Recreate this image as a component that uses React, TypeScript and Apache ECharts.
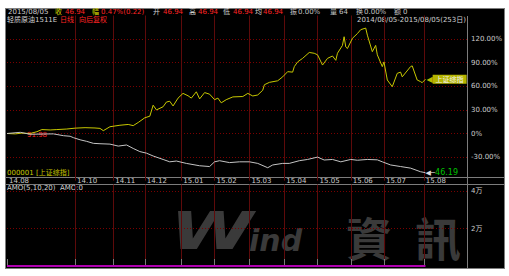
import React, { useEffect, useRef } from 'react';
import * as echarts from 'echarts';

// ---- data ----
const monthLabels = ['14.08', '14.10', '14.11', '14.12', '15.01', '15.02', '15.03', '15.04', '15.05', '15.06', '15.07', '15.08'];
const monthSlots = [0, 41, 64, 83, 105, 125, 146, 167, 187, 207, 227, 251];
const slotCount = 278; // trading-day slots on the x axis (data occupies 0..252)

// 上证综指, % change since 2014/08/05: [trading day, pct]
const shanghaiPct: number[][] = [
  [0, 0], [5, -0.5], [9, 0.5], [14, 0], [18, 2.3], [21, 5], [26, 4.5], [30, 5], [36, 5.7], [41, 6.8],
  [47, 7.4], [53, 7], [56, 6.5], [58, 3.6], [62, 8.6], [68, 10.5], [73, 11.5], [76, 10], [79, 14], [83, 20],
  [86, 22], [88, 36], [90, 30], [94, 34], [96, 40], [98, 41], [100, 35], [103, 45], [106, 51], [109, 48],
  [111, 45], [114, 53], [116, 44], [119, 52], [122, 50], [125, 43], [127, 45], [129, 39], [132, 43], [136, 46.5],
  [142, 47], [145, 51], [148, 47.7], [151, 49], [154, 55], [155, 62], [158, 65], [163, 67], [166, 72], [169, 78.6],
  [172, 78], [173, 85], [175, 91], [178, 95.5], [182, 103], [185, 102], [187, 100], [190, 87], [193, 95.5], [196, 98.5],
  [198, 93], [199, 102], [202, 112], [203, 123], [204, 110], [205, 108], [208, 121], [211, 127], [213, 132], [216, 134],
  [217, 125], [220, 104], [222, 112], [223, 100], [226, 85], [227, 91], [229, 68], [232, 59.5], [235, 76.5], [237, 78],
  [238, 72], [243, 85], [244, 86], [247, 68], [249, 66], [250, 64.6], [252, 69],
];

// 轻质原油1511E, % change since 2014/08/05: [trading day, pct]
const crudePct: number[][] = [
  [0, 0], [8, 1.5], [14, -1], [22, -0.6], [28, -0.5], [34, -2.8], [38, -3.5], [40, -5.3], [44, -8], [48, -10],
  [52, -12.5], [56, -13], [62, -13.5], [67, -16], [72, -14.6], [76, -19], [80, -23], [84, -25], [88, -28.6], [94, -33],
  [98, -36], [102, -35], [108, -38], [116, -41], [122, -42], [125, -36], [128, -34.6], [134, -37], [140, -36], [146, -36],
  [151, -38], [157, -43.5], [160, -40], [166, -38], [170, -38], [176, -34.6], [181, -33], [187, -30], [191, -33.7], [196, -33],
  [201, -36], [207, -33], [211, -34], [217, -33], [223, -33.5], [226, -36], [231, -40], [237, -42], [243, -44], [249, -48.6],
  [252, -49.8],
];

// AMO(5,10,20) volume amount: [trading day, value]
const amoValues: number[][] = [[0, 0], [252, 0]];

const crudeFirstPrice = '91.98';
const crudeLastPrice = '46.19';

const headerRow1: [string, string][] = [
  ['2015/08/05', 'w'], ['收', 'y'], ['46.94', 'r'], ['幅', 'y'], ['0.47%(0.22)', 'r'], ['开', 'w'], ['46.94', 'r'],
  ['高', 'w'], ['46.94', 'r'], ['低', 'w'], ['46.94', 'r'], ['均', 'w'], ['46.94', 'r'], ['振', 'g'], ['0.00%', 'g'],
  ['量', 'g'], ['64', 'g'], ['换', 'g'], ['0.00%', 'g'], ['额', 'g'], ['0', 'g'],
];
const headerRow1X = [8, 55, 65, 92, 101, 153, 163, 189, 198, 223, 233, 255, 263, 290, 298, 330, 339, 356, 364, 394, 403];

export default function App() {
  const ref = useRef<HTMLDivElement>(null);

  useEffect(() => {
    const chart = echarts.init(ref.current!, null, { renderer: 'svg' });
    const font = '"DejaVu Sans", "Noto Sans CJK SC", sans-serif';
    const cjk = '"Noto Sans CJK SC", sans-serif';
    const colors: Record<string, string> = { w: '#d0d0d0', y: '#d8d800', r: '#ff2424', g: '#c4c4c4' };
    const cats = Array.from({ length: slotCount }, (_, i) => String(i));
    const isMonth = (i: number) => monthSlots.includes(i);
    const gridV = '#5e0a0a';
    const gridH = '#7a0000';
    const frame = '#7c7c7c';

    const txt = (text: string, x: number, y: number, fill: string, extra: any = {}) => ({
      type: 'text', x, y, silent: true,
      style: {
        text, fill, fontSize: 7, lineHeight: 7, fontFamily: font,
        textVerticalAlign: 'middle', verticalAlign: 'middle', ...extra,
      },
    });
    const line = (x1: number, y1: number, x2: number, y2: number) => ({
      type: 'line', silent: true, shape: { x1, y1, x2, y2 }, style: { stroke: frame, lineWidth: 1 },
    });

    const graphics: any[] = [
      line(467.5, 16, 467.5, 268),
      line(5, 177.5, 505, 177.5),
      line(5, 184.5, 505, 184.5),
      ...headerRow1.map(([t, c], i) => txt(t, headerRow1X[i], 12.3, colors[c])),
      txt('轻质原油1511E', 7, 19.6, colors.w),
      txt('日线', 60, 19.6, colors.r),
      txt('向后复权', 79, 19.6, colors.r),
      txt('2014/08/05-2015/08/05(253日)', 466, 19.6, colors.w, { textAlign: 'right', align: 'right' }),
      txt(crudeFirstPrice, 27, 134.5, '#ff2020'),
      txt('000001 [上证综指]', 7, 173, '#c8c800'),
      txt('AMO(5,10,20)  AMO:0', 7, 188, colors.w),
      {
        type: 'text', x: 170, y: 257, silent: true, z: -1,
        style: { text: 'W', fill: '#3a3a3a', fontSize: 52, fontWeight: 'bold', fontStyle: 'italic', fontFamily: 'DejaVu Sans', textVerticalAlign: 'bottom', verticalAlign: 'bottom' },
        scaleX: 1.45,
      },
      {
        type: 'text', x: 249, y: 255, silent: true, z: -1,
        style: { text: 'ind', fill: '#3a3a3a', fontSize: 30, fontWeight: 'bold', fontStyle: 'italic', fontFamily: 'DejaVu Sans', textVerticalAlign: 'bottom', verticalAlign: 'bottom' },
      },
      {
        type: 'text', x: 346, y: 236, silent: true, z: -1,
        style: { text: '資', fill: '#3a3a3a', fontSize: 46, fontWeight: 'bold', fontFamily: '"Noto Sans CJK TC", sans-serif', textVerticalAlign: 'middle', verticalAlign: 'middle' },
      },
      {
        type: 'text', x: 415, y: 236, silent: true, z: -1,
        style: { text: '訊', fill: '#3a3a3a', fontSize: 46, fontWeight: 'bold', fontFamily: '"Noto Sans CJK TC", sans-serif', textVerticalAlign: 'middle', verticalAlign: 'middle' },
      },
    ];

    const option: any = {
      animation: false,
      backgroundColor: 'transparent',
      textStyle: { fontFamily: font },
      grid: [
        { left: 7, right: 42, top: 15.5, height: 165.2 },
        { left: 7, right: 42, top: 184.5, height: 81.5 },
      ],
      xAxis: [
        {
          type: 'category', gridIndex: 0, data: cats, boundaryGap: false, position: 'bottom',
          axisLine: { show: false }, axisTick: { show: false },
          axisLabel: {
            interval: (i: number) => isMonth(i),
            formatter: (_v: string, i: number) => {
              const k = monthSlots.indexOf(i);
              return k >= 0 ? monthLabels[k] : '';
            },
            margin: 0, verticalAlign: 'middle', align: 'left', padding: [0, 0, 0, 2],
            color: '#cccccc', fontSize: 7, fontFamily: font,
          },
          splitLine: { show: true, interval: (i: number) => isMonth(i) && i > 0, lineStyle: { color: gridV, width: 1 } },
        },
        {
          type: 'category', gridIndex: 1, data: cats, boundaryGap: false, position: 'top',
          axisLine: { show: false },
          axisTick: { show: true, interval: (i: number) => isMonth(i), length: 7, lineStyle: { color: frame } },
          axisLabel: { show: false },
          splitLine: { show: true, interval: (i: number) => isMonth(i) && i > 0, lineStyle: { color: gridV, width: 1 } },
        },
      ],
      yAxis: [
        {
          type: 'value', gridIndex: 0, position: 'right', min: -60, max: 150, interval: 30,
          axisLine: { show: false }, axisTick: { show: false },
          axisLabel: {
            showMinLabel: false, showMaxLabel: false, margin: 4, color: '#cccccc', fontSize: 7, fontFamily: font,
            formatter: (v: number) => (v === 0 ? '0%' : v.toFixed(2) + '%'),
          },
          splitLine: { show: true, showMinLine: false, showMaxLine: false, lineStyle: { color: gridH, type: [1, 2], width: 1 } },
        },
        {
          type: 'value', gridIndex: 1, position: 'right', min: 0, max: 43500, interval: 20000,
          axisLine: { show: false }, axisTick: { show: false },
          axisLabel: {
            showMinLabel: false, showMaxLabel: false, margin: 4, color: '#cccccc', fontSize: 7, fontFamily: font,
            formatter: (v: number) => (v === 0 || v > 40000 ? '' : v / 10000 + '万'),
          },
          splitLine: { show: true, showMinLine: false, showMaxLine: false, lineStyle: { color: gridH, type: [1, 2], width: 1 } },
        },
      ],
      graphic: graphics,
      series: [
        {
          name: '上证综指', type: 'line', xAxisIndex: 0, yAxisIndex: 0, data: shanghaiPct,
          symbol: 'none', lineStyle: { color: '#c8c800', width: 1 }, z: 3,
          endLabel: {
            show: true, distance: 1,
            formatter: '{a|◀}{b|上证综指}',
            rich: {
              a: { color: '#b8b800', fontSize: 8, fontFamily: 'DejaVu Sans' },
              b: { color: '#f4f4f4', backgroundColor: '#b4b400', fontSize: 7, fontFamily: cjk, padding: [1, 3, 1, 3] },
            },
          },
        },
        {
          name: '轻质原油1511E', type: 'line', xAxisIndex: 0, yAxisIndex: 0, data: crudePct,
          symbol: 'none', lineStyle: { color: '#c4c4c4', width: 1 }, z: 3,
          endLabel: {
            show: true, distance: 0,
            formatter: '{a|◀─}{b|' + crudeLastPrice + '}',
            rich: {
              a: { color: '#e0e0e0', fontSize: 7, fontFamily: 'DejaVu Sans' },
              b: { color: '#00c000', fontSize: 8, fontFamily: font },
            },
          },
        },
        {
          name: 'AMO', type: 'line', xAxisIndex: 1, yAxisIndex: 1, data: amoValues,
          symbol: 'none', lineStyle: { color: '#b000b0', width: 2 }, z: 3,
        },
      ],
    };
    chart.setOption(option);
    return () => chart.dispose();
  }, []);

  return (
    <div style={{ position: 'fixed', left: 0, top: 0, width: 509, height: 276, background: '#ffffff' }}>
      <div
        style={{
          position: 'absolute', left: 5, top: 8, width: 500, height: 261,
          background: '#000000', border: '1px solid #7c7c7c', boxSizing: 'border-box',
        }}
      />
      <div ref={ref} style={{ position: 'absolute', left: 0, top: 0, width: 509, height: 276 }} />
    </div>
  );
}
